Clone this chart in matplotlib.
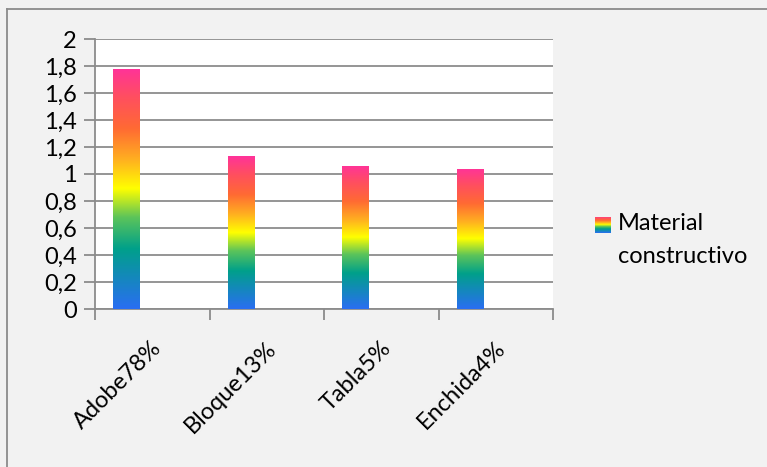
from matplotlib import pyplot as plt
from matplotlib.colors import LinearSegmentedColormap
import numpy as np

categories = ["Adobe78%", "Bloque13%", "Tabla5%", "Enchida4%"]
values = [1.78, 1.13, 1.06, 1.04]
yticks = [0, 0.2, 0.4, 0.6, 0.8, 1, 1.2, 1.4, 1.6, 1.8, 2]
ytick_labels = ["0", "0,2", "0,4", "0,6", "0,8", "1", "1,2", "1,4", "1,6", "1,8", "2"]
legend_label = "Material\nconstructivo"

plt.rcParams['font.family'] = ['Lato', 'DejaVu Sans']

# degradado arcoiris de abajo hacia arriba
rainbow = LinearSegmentedColormap.from_list("rainbow_excel", [
    (0.0, "#2a6ef2"),
    (0.25, "#00a08a"),
    (0.38, "#5cc45a"),
    (0.5, "#ffff00"),
    (0.62, "#ffb020"),
    (0.75, "#ff6a33"),
    (0.88, "#ff4f5f"),
    (1.0, "#ff3399"),
])
grad = np.linspace(0, 1, 256).reshape(-1, 1)

fig = plt.figure(figsize=(7.67, 4.67), dpi=100, facecolor="#f2f2f2")
ax = fig.add_axes([95 / 767, 1 - 309 / 467, 458 / 767, 270 / 467])
ax.set_facecolor("white")

x = np.arange(len(categories))
width = 0.23
bars = ax.bar(x - 0.227, values, width=width, color="none", zorder=3)
for b in bars:
    x0, h = b.get_x(), b.get_height()
    im = ax.imshow(grad, cmap=rainbow, origin="lower", aspect="auto",
                   extent=(x0, x0 + b.get_width(), 0, h), zorder=3)
    im.set_clip_path(b)

ax.set_xlim(-0.5, 3.5)
ax.set_ylim(0, 2)
ax.set_yticks(yticks)
ax.set_yticklabels(ytick_labels, fontsize=17)
ax.set_xticks(np.arange(-0.5, 4, 1))
ax.set_xticklabels([])
ax.grid(axis="y", color="#8c8c8c", linewidth=1.3, zorder=1)
for s in ["top", "right"]:
    ax.spines[s].set_visible(False)
for s in ["left", "bottom"]:
    ax.spines[s].set_color("#8c8c8c")
    ax.spines[s].set_linewidth(1.3)
ax.tick_params(axis="both", color="#8c8c8c", width=1.3, length=8, pad=5)

for i, name in enumerate(categories):
    ax.annotate(name, (i, 0), xycoords="data", xytext=(6, -36),
                textcoords="offset pixels", rotation=45, rotation_mode="anchor",
                ha="right", va="center", fontsize=17)

# leyenda hecha a mano
lax = fig.add_axes([595 / 767, 1 - 233 / 467, 16 / 767, 16 / 467])
lax.imshow(grad, cmap=rainbow, origin="lower", aspect="auto")
lax.axis("off")
fig.text(618 / 767, 1 - 213 / 467, legend_label, ha="left", va="top",
         fontsize=17, linespacing=1.7)

# marco exterior (solo izquierda y arriba, la imagen esta recortada)
fig.add_artist(plt.Line2D([7 / 767, 7 / 767], [0, 1 - 9 / 467], transform=fig.transFigure,
                          color="#8c8c8c", linewidth=1.3))
fig.add_artist(plt.Line2D([7 / 767, 1], [1 - 9 / 467, 1 - 9 / 467], transform=fig.transFigure,
                          color="#8c8c8c", linewidth=1.3))

fig.savefig("out.png", dpi=100, facecolor=fig.get_facecolor())
